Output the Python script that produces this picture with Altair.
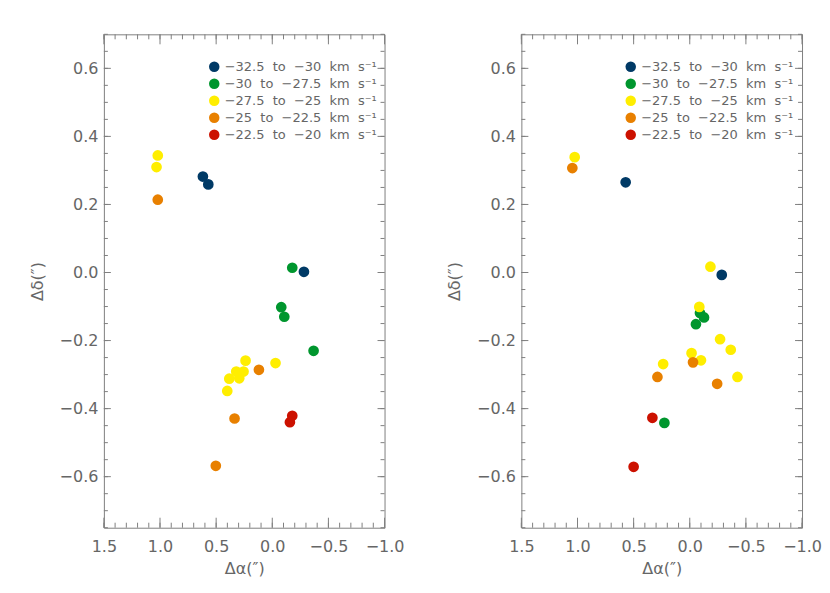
import altair as alt
import pandas as pd
import numpy as np

# ---- data ----
groups = ["−32.5 to −30 km s⁻¹", "−30 to −27.5 km s⁻¹", "−27.5 to −25 km s⁻¹",
          "−25 to −22.5 km s⁻¹", "−22.5 to −20 km s⁻¹"]
group_labels = [g.replace(" ", "\u00a0 ") for g in groups]
colors = ["#003a66", "#00962e", "#ffee00", "#e88000", "#cc1100"]

# left panel
p1_x = [0.618, 0.570, -0.282,
        -0.178, -0.080, -0.107, -0.368,
        1.020, 1.031, 0.238, -0.029, 0.321, 0.256, 0.383, 0.294, 0.401,
        1.020, 0.119, 0.336, 0.503,
        -0.178, -0.157]
p1_y = [0.282, 0.259, 0.002,
        0.014, -0.102, -0.130, -0.230,
        0.344, 0.310, -0.259, -0.266, -0.291, -0.291, -0.312, -0.311, -0.348,
        0.214, -0.286, -0.429, -0.568,
        -0.421, -0.440]
p1_g = [0, 0, 0,
        1, 1, 1, 1,
        2, 2, 2, 2, 2, 2, 2, 2, 2,
        3, 3, 3, 3,
        4, 4]

# right panel
p2_x = [0.571, -0.285,
        -0.091, -0.127, -0.055, 0.226,
        1.025, -0.184, -0.085, -0.270, -0.365, -0.016, -0.100, 0.237, -0.425,
        1.046, -0.029, 0.288, -0.244,
        0.333, 0.500]
p2_y = [0.265, -0.007,
        -0.119, -0.132, -0.152, -0.442,
        0.339, 0.017, -0.101, -0.196, -0.227, -0.237, -0.258, -0.269, -0.307,
        0.307, -0.264, -0.307, -0.327,
        -0.427, -0.571]
p2_g = [0, 0,
        1, 1, 1, 1,
        2, 2, 2, 2, 2, 2, 2, 2, 2,
        3, 3, 3, 3,
        4, 4]

x_major = [1.5, 1.0, 0.5, 0.0, -0.5, -1.0]
x_minor = [round(v, 2) for v in np.arange(-1.0, 1.51, 0.1)]
y_major = [-0.6, -0.4, -0.2, 0.0, 0.2, 0.4, 0.6]
y_minor = [round(v, 3) for v in np.arange(-0.75, 0.701, 0.05)]

W, H = 281, 494
AX = "#808080"
TXT = "#666666"
FONT = "DejaVu Sans"

xscale = alt.Scale(domain=[-1.0, 1.5], reverse=True, nice=False, zero=False)
yscale = alt.Scale(domain=[-0.75, 0.7], nice=False, zero=False)
xaxis = alt.Axis(values=x_major, format=".1f", title="Δα(″)",
                 ticks=False, domain=False, grid=False,
                 labelOverlap=False, labelBound=False, labelFlush=False,
                 labelPadding=11, titlePadding=6)
yaxis = alt.Axis(values=y_major, format=".1f", title="Δδ(″)",
                 ticks=False, domain=False, grid=False,
                 labelOverlap=False, labelBound=False, labelFlush=False,
                 labelPadding=6, titlePadding=14)


def tick_layers():
    dx_maj = pd.DataFrame({"x": x_major})
    dx_min = pd.DataFrame({"x": x_minor})
    dy_maj = pd.DataFrame({"y": y_major})
    dy_min = pd.DataFrame({"y": y_minor})
    layers = []
    for d, L in [(dx_maj, 10), (dx_min, 5)]:
        base = alt.Chart(d).mark_rule(color=AX, strokeWidth=1)
        layers.append(base.encode(x=alt.X("x:Q", scale=xscale, axis=xaxis),
                                  y=alt.value(H), y2=alt.value(H - L)))
        layers.append(base.encode(x=alt.X("x:Q", scale=xscale, axis=xaxis),
                                  y=alt.value(0), y2=alt.value(L)))
    for d, L in [(dy_maj, 7), (dy_min, 4)]:
        base = alt.Chart(d).mark_rule(color=AX, strokeWidth=1)
        layers.append(base.encode(y=alt.Y("y:Q", scale=yscale, axis=yaxis),
                                  x=alt.value(0), x2=alt.value(L)))
        layers.append(base.encode(y=alt.Y("y:Q", scale=yscale, axis=yaxis),
                                  x=alt.value(W), x2=alt.value(W - L)))
    return layers


def panel(xs, ys, gs, lx, ly):
    df = pd.DataFrame({"x": xs, "y": ys, "g": [group_labels[i] for i in gs]})
    pts = alt.Chart(df).mark_circle(size=115, opacity=1).encode(
        x=alt.X("x:Q", scale=xscale, axis=xaxis),
        y=alt.Y("y:Q", scale=yscale, axis=yaxis),
        color=alt.Color("g:N", scale=alt.Scale(domain=group_labels, range=colors),
                        legend=alt.Legend(title=None, orient="none",
                                          legendX=lx, legendY=ly)),
    )
    return alt.layer(pts, *tick_layers()).properties(width=W, height=H)


left = panel(p1_x, p1_y, p1_g, 104, 26)
right = panel(p2_x, p2_y, p2_g, 103, 26)

chart = alt.hconcat(left, right, spacing=41).resolve_scale(
    color="independent").properties(
    padding={"left": 20, "top": 25, "right": 0, "bottom": 0}
).configure_view(stroke=AX, strokeWidth=1).configure_axis(
    labelFont=FONT, labelFontSize=16, labelColor=TXT,
    titleFont=FONT, titleFontSize=16, titleColor=TXT, titleFontWeight="normal",
).configure_legend(
    labelFont=FONT, labelFontSize=13, labelColor=TXT, symbolType="circle",
    symbolSize=110, symbolStrokeWidth=0, rowPadding=3, padding=0,
    labelLimit=300, symbolOffset=0,
)

chart.save("out.html", embed_options={"renderer": "svg", "actions": False})
